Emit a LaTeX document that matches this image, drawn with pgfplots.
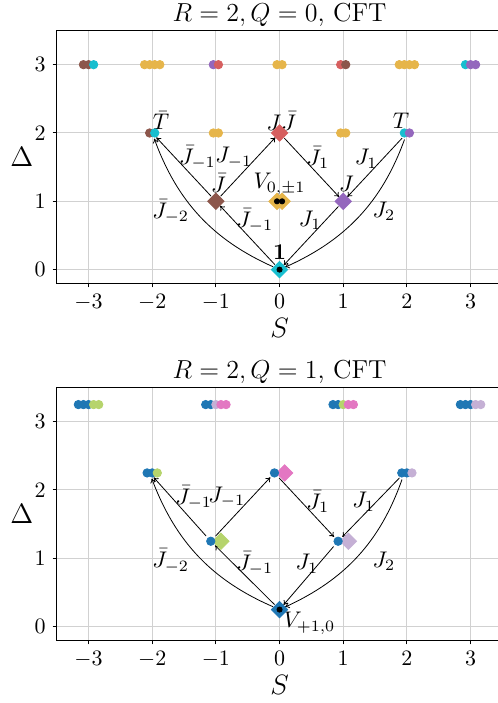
\RequirePackage{fix-cm}
\documentclass[border=0pt]{standalone}
\usepackage{amsmath,amssymb}
\usepackage{pgfplots}
\pgfplotsset{compat=1.18}
\usetikzlibrary{arrows.meta}

\definecolor{cyn}{HTML}{17BECF}
\definecolor{brn}{HTML}{8C564B}
\definecolor{prp}{HTML}{9467BD}
\definecolor{red1}{HTML}{D65F5F}
\definecolor{yel}{HTML}{E6B54A}
\definecolor{blu}{HTML}{1F77B4}
\definecolor{grn}{HTML}{B6D46C}
\definecolor{pnk}{HTML}{E377C2}
\definecolor{lav}{HTML}{C5B0D5}

% square diamond (matplotlib 'D')
\pgfdeclareplotmark{dia}{%
  \pgfpathmoveto{\pgfqpoint{0pt}{\pgfplotmarksize}}%
  \pgfpathlineto{\pgfqpoint{\pgfplotmarksize}{0pt}}%
  \pgfpathlineto{\pgfqpoint{0pt}{-\pgfplotmarksize}}%
  \pgfpathlineto{\pgfqpoint{-\pgfplotmarksize}{0pt}}%
  \pgfpathclose
  \pgfusepathqfillstroke}

\pgfplotsset{
  cftaxis/.style={
    scale only axis, width=222.85pt, height=126.4pt,
    xmin=-3.5, xmax=3.5, ymin=-0.2, ymax=3.5,
    xtick={-3,-2,-1,0,1,2,3}, ytick={0,1,2,3},
    grid=major, grid style={line width=0.5pt, black!18},
    axis line style={line width=0.5pt},
    tick align=outside, xtick pos=left, ytick pos=left,
    major tick length=2pt, tick style={black, line width=0.5pt},
    tick label style={font=\fontsize{11}{13}\selectfont},
    xlabel={$S$}, ylabel={$\Delta$},
    label style={font=\fontsize{14}{16}\selectfont},
    xlabel style={at={(axis description cs:0.5,0)}, anchor=base, yshift=-27pt},
    ylabel style={rotate=-90, at={(axis description cs:0,0.5)}, anchor=center, xshift=-17.4pt},
    title style={font=\fontsize{13}{15}\selectfont, at={(axis description cs:0.5,1)}, anchor=base, yshift=-1.7pt},
    clip=false,
  },
  pts/.style={scatter, only marks, mark size=2.1pt, scatter src=explicit symbolic,
    scatter/classes={
      c={mark=*, cyn}, b={mark=*, brn}, p={mark=*, prp}, r={mark=*, red1}, y={mark=*, yel},
      B={mark=*, blu}, g={mark=*, grn}, k={mark=*, pnk}, l={mark=*, lav},
      dc={mark=dia, mark size=4.1pt, cyn}, db={mark=dia, mark size=4.1pt, brn},
      dp={mark=dia, mark size=4.1pt, prp}, dr={mark=dia, mark size=4.1pt, red1},
      dy={mark=dia, mark size=4.1pt, yel}, dB={mark=dia, mark size=4.1pt, blu},
      dg={mark=dia, mark size=4.1pt, grn}, dk={mark=dia, mark size=4.1pt, pnk},
      dl={mark=dia, mark size=4.1pt, lav}}},
}
\tikzset{
  arr/.style={-{To[length=2.2pt,width=3pt]}, line width=0.4pt, shorten <=3.5pt, shorten >=3pt},
  lab/.style={font=\fontsize{11.3}{13}\selectfont, inner sep=0pt},
}

\pgfplotstableread{
S D c
0 0 dc
-1 1 db
-0.04 1 dy
0.04 1 dy
1 1 dp
0 2 dr
-3.08 3 b
-3.0 3 b
-2.92 3 c
-2.12 3 y
-2.04 3 y
-1.96 3 y
-1.88 3 y
-1.04 3 p
-0.96 3 r
-0.04 3 y
0.04 3 y
0.96 3 r
1.04 3 b
1.88 3 y
1.96 3 y
2.04 3 y
2.12 3 y
2.92 3 c
3.0 3 p
3.08 3 p
-2.04 2 b
-1.96 2 c
-1.04 2 y
-0.96 2 y
0.96 2 y
1.04 2 y
1.96 2 c
2.04 2 p
}\qzero

\pgfplotstableread{
S D c
0 0.25 dB
-0.92 1.25 dg
1.08 1.25 dl
0.08 2.25 dk
-3.16 3.25 B
-3.08 3.25 B
-3.0 3.25 B
-2.92 3.25 g
-2.84 3.25 g
-1.16 3.25 B
-1.08 3.25 B
-1.0 3.25 l
-0.92 3.25 k
-0.84 3.25 k
0.84 3.25 B
0.92 3.25 B
1.0 3.25 g
1.08 3.25 k
1.16 3.25 k
2.84 3.25 B
2.92 3.25 B
3.0 3.25 B
3.08 3.25 l
3.16 3.25 l
-2.08 2.25 B
-2.0 2.25 B
-1.92 2.25 g
-0.08 2.25 B
1.92 2.25 B
2.0 2.25 B
2.08 2.25 l
-1.08 1.25 B
0.92 1.25 B
}\qone

\begin{document}
\begin{tikzpicture}
\begin{axis}[cftaxis, at={(0pt,0pt)}, anchor=south west, title={$R=2, Q=0$, CFT}]
  \addplot[pts] table[x=S, y=D, meta=c] {\qzero};
  \addplot[only marks, mark=*, mark size=1.3pt, black] coordinates {(0,0) (-0.04,1) (0.04,1)};
  % arrows
  \draw[arr] (axis cs:0,0) -- (axis cs:-1,1);
  \draw[arr] (axis cs:-1,1) -- (axis cs:-2,2);
  \draw[arr] (axis cs:-1,1) -- (axis cs:0,2);
  \draw[arr] (axis cs:0,2) -- (axis cs:1,1);
  \draw[arr] (axis cs:2,2) -- (axis cs:1,1);
  \draw[arr] (axis cs:1,1) -- (axis cs:0,0);
  \draw[arr] (axis cs:0,0) to[bend left=23] (axis cs:-2,2);
  \draw[arr] (axis cs:2,2) to[bend left=23] (axis cs:0,0);
  % state labels
  \node[lab] at (axis cs:-1.86,2.18) {$\bar T$};
  \node[lab] at (axis cs:0.03,2.17) {$J\bar J$};
  \node[lab] at (axis cs:1.91,2.18) {$T$};
  \node[lab] at (axis cs:-0.96,1.27) {$\bar J$};
  \node[lab] at (axis cs:0,1.25) {$V_{0,\pm1}$};
  \node[lab] at (axis cs:1.05,1.25) {$J$};
  \node[lab] at (axis cs:0,0.25) {$\mathbf{1}$};
  % arrow labels
  \node[lab] at (axis cs:-1.29,1.64) {$\bar J_{-1}$};
  \node[lab] at (axis cs:-0.72,1.64) {$J_{-1}$};
  \node[lab] at (axis cs:0.60,1.64) {$\bar J_{1}$};
  \node[lab] at (axis cs:1.36,1.62) {$J_{1}$};
  \node[lab] at (axis cs:-1.71,0.85) {$\bar J_{-2}$};
  \node[lab] at (axis cs:-0.39,0.72) {$\bar J_{-1}$};
  \node[lab] at (axis cs:0.48,0.72) {$J_{1}$};
  \node[lab] at (axis cs:1.64,0.85) {$J_{2}$};
\end{axis}

\begin{axis}[cftaxis, at={(0pt,-178.5pt)}, anchor=south west, title={$R=2, Q=1$, CFT}]
  \addplot[pts] table[x=S, y=D, meta=c] {\qone};
  \addplot[only marks, mark=*, mark size=1.3pt, black] coordinates {(0,0.25)};
  % arrows
  \draw[arr] (axis cs:0,0.25) -- (axis cs:-1.08,1.25);
  \draw[arr] (axis cs:-1.08,1.25) -- (axis cs:-2.04,2.25);
  \draw[arr] (axis cs:-1.08,1.25) -- (axis cs:-0.08,2.25);
  \draw[arr] (axis cs:-0.08,2.25) -- (axis cs:0.92,1.25);
  \draw[arr] (axis cs:1.96,2.25) -- (axis cs:0.92,1.25);
  \draw[arr] (axis cs:0.92,1.25) -- (axis cs:0,0.25);
  \draw[arr] (axis cs:0,0.25) to[bend left=23] (axis cs:-2.04,2.25);
  \draw[arr] (axis cs:1.96,2.25) to[bend left=23] (axis cs:0,0.25);
  % labels
  \node[lab] at (axis cs:0.47,0.05) {$V_{+1,0}$};
  \node[lab] at (axis cs:-1.35,1.89) {$\bar J_{-1}$};
  \node[lab] at (axis cs:-0.83,1.89) {$J_{-1}$};
  \node[lab] at (axis cs:0.60,1.83) {$\bar J_{1}$};
  \node[lab] at (axis cs:1.32,1.83) {$J_{1}$};
  \node[lab] at (axis cs:-1.71,0.96) {$\bar J_{-2}$};
  \node[lab] at (axis cs:-0.39,0.92) {$\bar J_{-1}$};
  \node[lab] at (axis cs:0.43,0.92) {$J_{1}$};
  \node[lab] at (axis cs:1.64,0.96) {$J_{2}$};
\end{axis}
\pgfresetboundingbox
\path[use as bounding box] (-28.35pt,-209.85pt) rectangle (220.65pt,141.65pt);
\end{tikzpicture}
\end{document}
